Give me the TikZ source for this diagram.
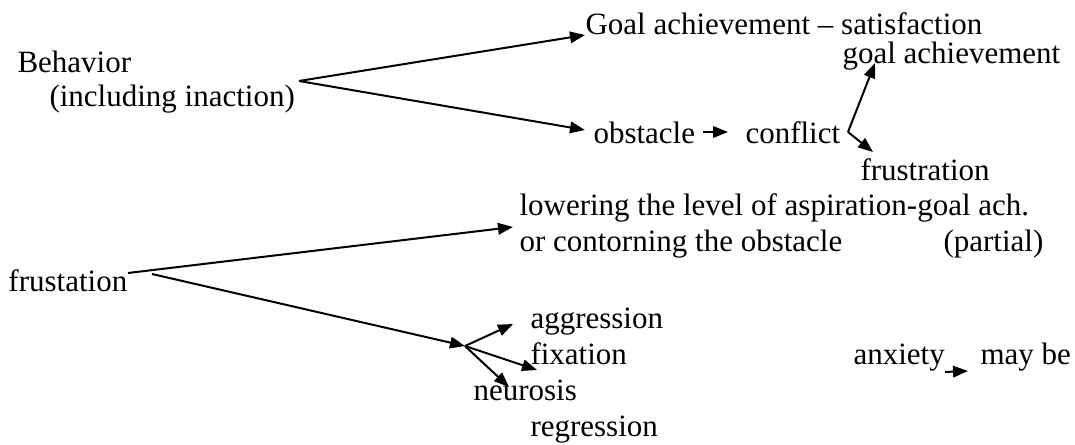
\documentclass[tikz,border=0pt]{standalone}
\usepackage{fontspec}
\setmainfont{Liberation Serif}
\usetikzlibrary{arrows.meta}
\usetikzlibrary{positioning}
\def\thickness{thick}
\tikzset{
word/.style={anchor=base west, inner sep=0pt, font=\fontsize{12.4}{14.3}\selectfont},
link/.style={\thickness, -{Triangle[length=6pt,width=4.6pt]}},
}

\begin{document}
\begin{tikzpicture}[x=0.4pt, y=-0.4pt]
\useasboundingbox (0,0) rectangle (1075,445);
%Place the nodes
\node[word] (behav) at (17,73) {Behavior};
\node[word] (incl) at (49,107) {(including inaction)};
\node[word] (goal) at (585,35) {Goal achievement -- satisfaction};
\node[word] (goalach) at (842,64) {goal achievement};
\node[word] (obst) at (593,144) {obstacle};
\node[word] (confl) at (745,144) {conflict};
\node[word] (frust) at (860,181) {frustration};
\node[word] (lower) at (519,216) {lowering the level of aspiration-goal ach.};
\node[word] (contor) at (519,252) {or contorning the obstacle};
\node[word] (partial) at (943,252) {(partial)};
\node[word] (frusta) at (8,292) {frustation};
\node[word] (aggr) at (530,329) {aggression};
\node[word] (fixa) at (530,365) {fixation};
\node[word] (anx) at (853,365) {anxiety};
\node[word] (maybe) at (980,365) {may be};
\node[word] (neuro) at (473,401) {neurosis};
\node[word] (regr) at (530,437) {regression};

%Place the fork points and arrow ends
\coordinate (bfork) at (299,81);
\coordinate (goalin) at (585,35);
\coordinate (obstin) at (585,130);
\coordinate (obstout) at (703,132);
\coordinate (conflin) at (728,132);
\coordinate (cfork) at (848,132);
\coordinate (goalachin) at (875,63);
\coordinate (frustin) at (873,152);
\coordinate (ffork1) at (128,273);
\coordinate (ffork2) at (152,274);
\coordinate (lowerin) at (513,227);
\coordinate (hub) at (465,346);
\coordinate (aggrin) at (513,324);
\coordinate (fixain) at (537,370);
\coordinate (neuroin) at (509,387);
\coordinate (anxout) at (945,372);
\coordinate (maybein) at (968,371);

%
\draw[link] (bfork) to (goalin);
\draw[link] (bfork) to (obstin);
\draw[link] (obstout) to (conflin);
\draw[link] (cfork) to (goalachin);
\draw[link] (cfork) to (frustin);

%
\draw[link] (ffork1) to (lowerin);
\draw[link] (ffork2) to (hub);
\draw[link] (hub) to (aggrin);
\draw[link] (hub) to (fixain);
\draw[link] (hub) to (neuroin);
\draw[link] (anxout) to (maybein);

\end{tikzpicture}
\end{document}
